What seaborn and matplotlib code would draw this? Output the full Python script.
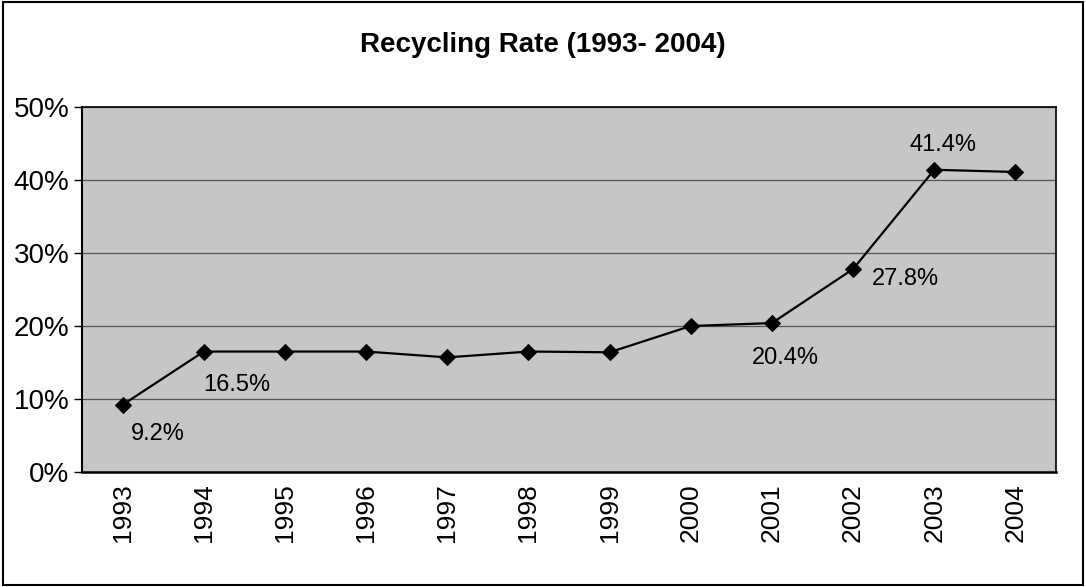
import matplotlib
matplotlib.use("Agg")
import matplotlib.pyplot as plt
from matplotlib.patches import Rectangle
from matplotlib.ticker import FixedLocator, PercentFormatter
import seaborn as sns
import pandas as pd
import numpy as np

years = ["1993", "1994", "1995", "1996", "1997", "1998",
         "1999", "2000", "2001", "2002", "2003", "2004"]
rate = [9.2, 16.5, 16.5, 16.5, 15.7, 16.5, 16.4, 20.0, 20.4, 27.8, 41.4, 41.1]
labelled = {"1993": "9.2%", "1994": "16.5%", "2001": "20.4%",
            "2002": "27.8%", "2003": "41.4%"}
y_ticks = [0, 10, 20, 30, 40, 50]

df = pd.DataFrame({"pos": np.arange(len(years)), "year": years, "rate": rate})

sns.set_style("white")
plt.rcParams["font.family"] = ["Liberation Sans", "DejaVu Sans"]
plt.rcParams["text.color"] = "black"
plt.rcParams["xtick.color"] = "black"
plt.rcParams["ytick.color"] = "black"

fig = plt.figure(figsize=(10.86, 5.87), dpi=100)
ax = fig.add_axes([82 / 1086, 1 - 472 / 587, (1056 - 82) / 1086, (472 - 107) / 587])
ax.set_facecolor("#c6c6c6")

sns.lineplot(data=df, x="pos", y="rate", ax=ax, color="black", linewidth=1.6,
             marker="D", markersize=8, markeredgecolor="black")

# data labels: (dx in categories, dy in percent points)
offsets = {"1993": (0.1, -4.0), "1994": (-0.01, -4.6),
           "2001": (-0.25, -4.8), "2002": (0.23, -1.4),
           "2003": (-0.30, 3.4)}
for pos, (yr, val) in enumerate(zip(years, rate)):
    if yr in labelled:
        dx, dy = offsets[yr]
        ax.text(pos + dx, val + dy, labelled[yr], fontsize=17, ha="left",
                va="center", color="black")

ax.set_xlim(-0.5, len(years) - 0.5)
ax.set_ylim(0, 50)
ax.set_yticks(y_ticks)
ax.yaxis.set_major_formatter(PercentFormatter(decimals=0))
ax.set_xticks(df["pos"])
ax.set_xticklabels(years, rotation=90)
ax.xaxis.set_minor_locator(FixedLocator(np.arange(0.5, len(years) - 0.5, 1)))
ax.tick_params(axis="x", which="major", length=0, labelsize=19, pad=8)
ax.tick_params(axis="x", which="minor", length=6, direction="in", width=1, color="black")
ax.tick_params(axis="y", length=6, direction="out", width=1, labelsize=20, pad=3, left=True)
ax.grid(axis="y", color="#555555", linewidth=0.9)
ax.set_xlabel("")
ax.set_ylabel("")
for s in ax.spines.values():
    s.set_color("black")
    s.set_linewidth(1.2)
ax.spines["left"].set_linewidth(1.5)
ax.spines["bottom"].set_linewidth(1.8)

fig.text(0.5, 1 - 45 / 587, "Recycling Rate (1993- 2004)", ha="center", va="center",
         fontsize=20, fontweight="bold", color="black")
fig.patches.append(Rectangle((0.003, 0.003), 0.994, 0.994, transform=fig.transFigure,
                             fill=False, edgecolor="black", linewidth=1.5))

fig.savefig("out.png", dpi=100)
